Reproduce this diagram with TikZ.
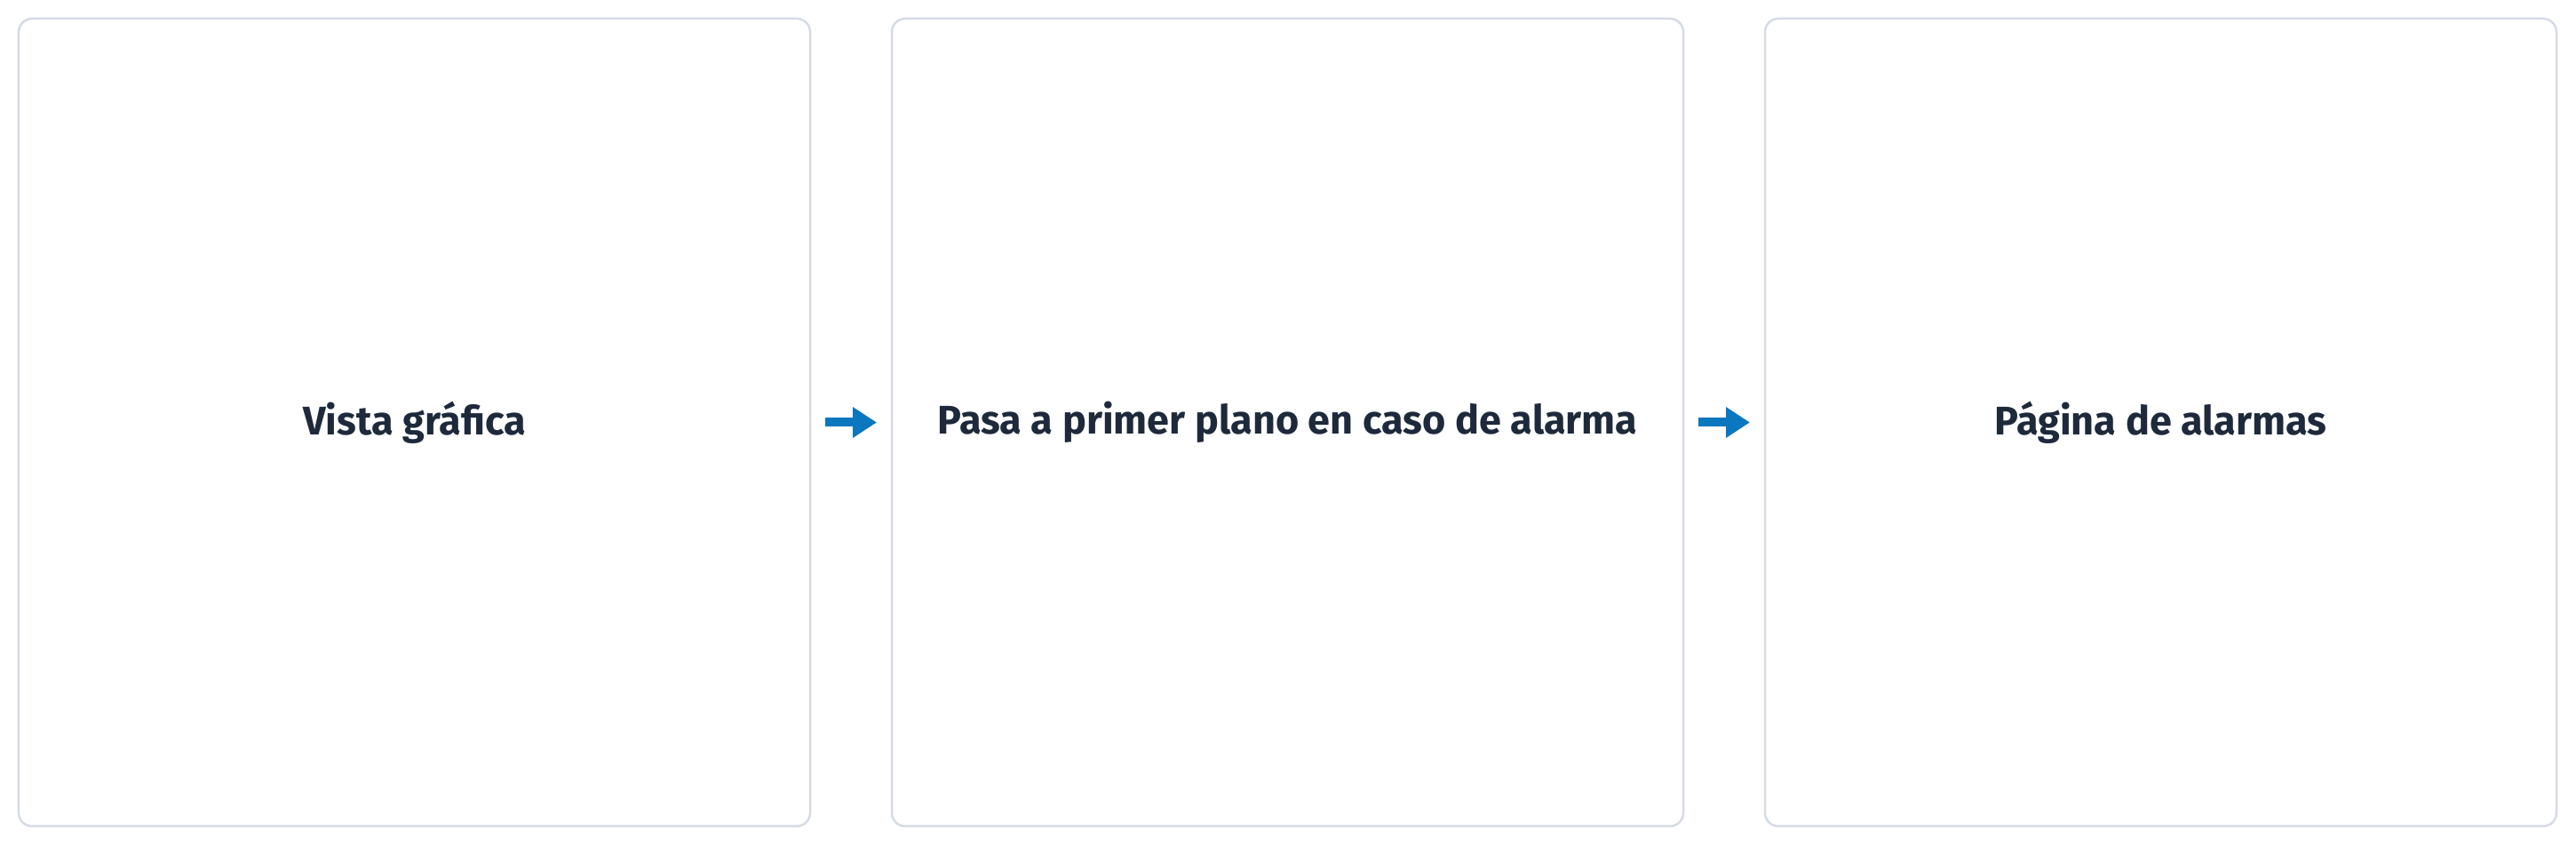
\documentclass[tikz,border=0pt]{standalone}
\usepackage{fontspec}
\setsansfont{Fira Sans}
\usepackage{xcolor}
\usepackage{tikz}
\usetikzlibrary{arrows.meta,positioning}

\definecolor{boxgray}{HTML}{D5DBE5}
\definecolor{labelnavy}{HTML}{1E2A3B}
\definecolor{arrowblue}{HTML}{0A77BF}

\begin{document}
\begin{tikzpicture}[
      stagebox/.style={
         rectangle,
         rounded corners=0.15cm,
         draw=boxgray,
         line width=0.025cm,
         fill=white,
         inner sep=0pt,
         outer sep=0pt,
         minimum width=8.91cm,
         minimum height=9.09cm,
         text=labelnavy,
         font=\sffamily\bfseries\fontsize{12.8}{15}\selectfont},
      flowarrow/.style={
         -{Triangle[length=0.27cm,width=0.33cm]},
         draw=arrowblue,
         line width=0.1cm,
         shorten <=0.17cm,
         shorten >=0.17cm},
      node distance=0.92cm
      ]
      \useasboundingbox (0,0) rectangle (29,9.5);
      \node[stagebox] (s1) at (4.665,4.745) {Vista gráfica};
      \node[stagebox,right=of s1] (s2) {Pasa a primer plano en caso de alarma};
      \node[stagebox,right=of s2] (s3) {Página de alarmas};

    \foreach \i/\j in {s1/s2, s2/s3}
       \draw [flowarrow] (\i.east) -- (\j.west);
    \end{tikzpicture}
\end{document}
